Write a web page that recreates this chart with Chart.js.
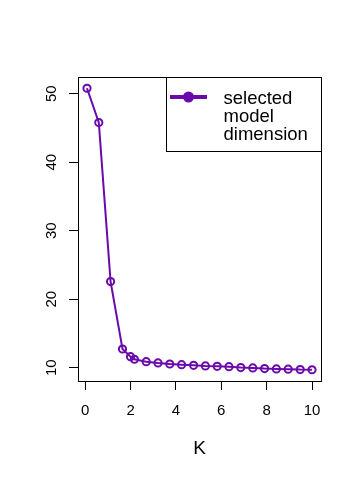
<!DOCTYPE html>
<html>
<head>
<meta charset="utf-8">
<script src="https://cdn.jsdelivr.net/npm/chart.js@4.4.1/dist/chart.umd.min.js"></script>
<style>
html,body{margin:0;padding:0;background:#fff;}
#wrap{width:361px;height:480px;position:relative;}
</style>
</head>
<body>
<div id="wrap"><canvas id="c" width="361" height="480"></canvas></div>
<script>
const kValues = [0.08, 0.6, 1.12, 1.645, 2.0, 2.17, 2.69, 3.21, 3.73, 4.25, 4.78, 5.3, 5.82, 6.34, 6.86, 7.39, 7.91, 8.43, 8.95, 9.48, 10.0];
const dimValues = [50.8, 45.8, 22.57, 12.73, 11.61, 11.23, 10.88, 10.69, 10.54, 10.44, 10.35, 10.25, 10.2, 10.15, 10.02, 9.96, 9.87, 9.82, 9.78, 9.72, 9.7];
const xTicks = [0, 2, 4, 6, 8, 10];
const yTicks = [10, 20, 30, 40, 50];
const seriesName = "selected model dimension";
const legendLines = ["selected", "model", "dimension"];
const xTitle = "K";

const COLOR = "#6a0aab";
const FONT = "'Liberation Sans', Arial, sans-serif";

function rangeOf(arr){ const mn=Math.min(...arr), mx=Math.max(...arr); const p=(mx-mn)*0.04; return [mn-p, mx+p]; }
const [xMin, xMax] = rangeOf(kValues);
const [yMin, yMax] = rangeOf(dimValues);

const boxPlugin = {
  id: 'boxPlugin',
  afterDraw(chart){
    const ctx = chart.ctx, a = chart.chartArea, ys = chart.scales.y;
    ctx.save();
    ctx.strokeStyle = '#000'; ctx.lineWidth = 1;
    ctx.strokeRect(Math.round(a.left)+0.5, Math.round(a.top)+0.5, Math.round(a.right-a.left), Math.round(a.bottom-a.top));
    ctx.fillStyle = '#000';
    ctx.font = "15px " + FONT;
    ctx.textAlign = 'center'; ctx.textBaseline = 'middle';
    yTicks.forEach(v => {
      const y = ys.getPixelForValue(v);
      ctx.save();
      ctx.translate(a.left - 26.5, y);
      ctx.rotate(-Math.PI/2);
      ctx.fillText(String(v), 0, 0);
      ctx.restore();
    });
    const lx0 = 166, lx1 = Math.round(a.right), ly0 = Math.round(a.top), ly1 = 151;
    ctx.fillStyle = '#fff';
    ctx.fillRect(lx0, ly0, lx1-lx0, ly1-ly0);
    ctx.strokeStyle = '#000'; ctx.lineWidth = 1;
    ctx.strokeRect(lx0+0.5, ly0+0.5, lx1-lx0, ly1-ly0);
    ctx.strokeStyle = COLOR; ctx.lineWidth = 4; ctx.lineCap = 'butt';
    ctx.beginPath(); ctx.moveTo(170, 97); ctx.lineTo(207, 97); ctx.stroke();
    ctx.fillStyle = COLOR;
    ctx.beginPath(); ctx.arc(188.5, 97, 5.5, 0, Math.PI*2); ctx.fill();
    ctx.fillStyle = '#000';
    ctx.font = "18.5px " + FONT;
    ctx.textAlign = 'left'; ctx.textBaseline = 'alphabetic';
    legendLines.forEach((t,i) => ctx.fillText(t, 223.5, 103.5 + i*18));
    ctx.restore();
  }
};

new Chart(document.getElementById('c'), {
  type: 'line',
  data: {
    datasets: [{
      label: seriesName,
      data: kValues.map((k,i) => ({x:k, y:dimValues[i]})),
      borderColor: COLOR,
      borderWidth: 2,
      backgroundColor: 'rgba(0,0,0,0)',
      pointBackgroundColor: 'rgba(0,0,0,0)',
      pointBorderColor: COLOR,
      pointBorderWidth: 2,
      pointRadius: 3.6,
      tension: 0,
      fill: false
    }]
  },
  options: {
    responsive: false,
    animation: false,
    devicePixelRatio: 1,
    layout: { padding: { left: 0, top: 77, right: 40, bottom: 20 } },
    plugins: { legend: { display: false }, tooltip: { enabled: false } },
    scales: {
      x: {
        type: 'linear', min: xMin, max: xMax,
        afterBuildTicks(s){ s.ticks = xTicks.map(v => ({value:v})); },
        afterFit(s){ s.height = 79; },
        grid: { display: true, drawOnChartArea: false, drawTicks: true, tickLength: 9, color: '#000', tickColor: '#000' },
        border: { display: false },
        ticks: { color: '#000', font: { size: 15, family: FONT }, padding: 12, maxRotation: 0, autoSkip: false,
                 callback: v => String(v) },
        title: { display: true, text: xTitle, color: '#000', font: { size: 19, family: FONT }, padding: { top: 0, bottom: 0 } }
      },
      y: {
        type: 'linear', min: yMin, max: yMax,
        afterBuildTicks(s){ s.ticks = yTicks.map(v => ({value:v})); },
        afterFit(s){ s.width = 78; },
        grid: { display: true, drawOnChartArea: false, drawTicks: true, tickLength: 9, color: '#000', tickColor: '#000' },
        border: { display: false },
        ticks: { display: false }
      }
    }
  },
  plugins: [boxPlugin]
});
</script>
</body>
</html>
